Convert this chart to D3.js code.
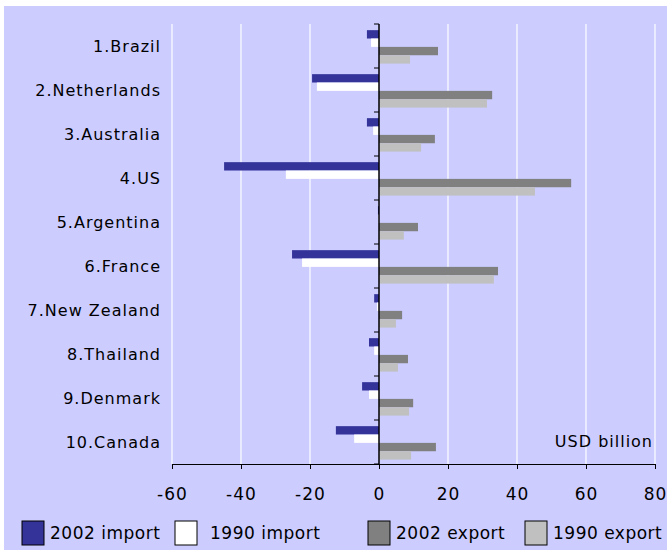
<!DOCTYPE html>
<html>
<head>
<meta charset="utf-8">
<script src="https://cdn.jsdelivr.net/npm/d3@7"></script>
<style>
  body { margin: 0; background: #fff; }
  svg text { font-family: "DejaVu Sans", Verdana, sans-serif; font-size: 16px; letter-spacing: 1px; fill: #000; }
</style>
</head>
<body>
<div id="app"></div>
<script>
const countries = ['1.Brazil', '2.Netherlands', '3.Australia', '4.US', '5.Argentina',
  '6.France', '7.New Zealand', '8.Thailand', '9.Denmark', '10.Canada']
const import2002 = [-3.5, -19.4, -3.5, -44.9, -0.3, -25.2, -1.4, -2.9, -4.9, -12.5]
const import1990 = [-2.3, -18.0, -1.7, -27.0, -0.2, -22.3, -0.6, -1.4, -2.9, -7.2]
const export2002 = [17.1, 32.8, 16.2, 55.7, 11.3, 34.5, 6.7, 8.4, 9.9, 16.5]
const export1990 = [9.0, 31.3, 12.2, 45.2, 7.2, 33.3, 4.9, 5.5, 8.7, 9.3]
const seriesNames = ['2002 import', '1990 import', '2002 export', '1990 export']
const xTicks = [-60, -40, -20, 0, 20, 40, 60, 80]

const colors = ['#333399', '#ffffff', '#808080', '#c0c0c0']
const seriesValues = [import2002, import1990, export2002, export1990]

const width = 667
const height = 550
const marginLeft = 172
const marginRight = 12
const marginTop = 24
const marginBottom = 86

const svg = d3.select('#app')
  .append('svg')
  .attr('width', width)
  .attr('height', height)

// lavender backdrop
svg.append('rect')
  .attr('x', 4).attr('y', 6)
  .attr('width', width - 4).attr('height', height - 6)
  .attr('fill', '#ccccff')

const x = d3.scaleLinear()
  .domain([-60, 80])
  .range([marginLeft, width - marginRight])

const y = d3.scaleBand()
  .domain(countries)
  .range([marginTop, height - marginBottom])

const inner = d3.scaleBand()
  .domain(seriesNames)
  .range([y.bandwidth() * 0.14, y.bandwidth() * 0.9])

// gridlines
svg.append('g')
  .selectAll('line')
  .data(xTicks.filter(d => d !== 0))
  .join('line')
  .attr('x1', d => x(d)).attr('x2', d => x(d))
  .attr('y1', marginTop).attr('y2', height - marginBottom)
  .attr('stroke', '#fff')
  .attr('stroke-width', 1.2)

// bars
seriesNames.forEach((name, i) => {
  svg.append('g')
    .selectAll('rect')
    .data(seriesValues[i])
    .join('rect')
    .attr('x', d => x(Math.min(0, d)))
    .attr('width', d => Math.abs(x(d) - x(0)))
    .attr('y', (d, j) => y(countries[j]) + inner(name))
    .attr('height', inner.bandwidth())
    .attr('fill', colors[i])
})

// x axis
const xAxis = svg.append('g')
  .attr('transform', `translate(0,${height - marginBottom})`)
  .call(d3.axisBottom(x).tickValues(xTicks).tickSize(5).tickPadding(19).tickFormat(d => String(d)))
xAxis.select('.domain').attr('stroke', '#000')
xAxis.selectAll('text')
  .attr('font-size', null).attr('font-family', null)
  .style('font-size', '17px').style('letter-spacing', '1px')

// zero axis with category ticks
svg.append('line')
  .attr('x1', x(0)).attr('x2', x(0))
  .attr('y1', marginTop).attr('y2', height - marginBottom)
  .attr('stroke', '#000').attr('stroke-width', 1.5)

svg.append('g')
  .selectAll('line')
  .data(countries.concat(['end']))
  .join('line')
  .attr('x1', x(0) - 5).attr('x2', x(0))
  .attr('y1', (d, i) => marginTop + i * y.step())
  .attr('y2', (d, i) => marginTop + i * y.step())
  .attr('stroke', '#000')

// category labels
svg.append('g')
  .selectAll('text')
  .data(countries)
  .join('text')
  .attr('x', 161)
  .attr('y', d => y(d) + y.bandwidth() / 2)
  .attr('dy', '0.36em')
  .attr('text-anchor', 'end')
  .text(d => d)

svg.append('text')
  .attr('x', 653)
  .attr('y', 447)
  .attr('text-anchor', 'end')
  .text('USD billion')

// legend
const legendX = [22, 175, 368, 525]
const legend = svg.append('g')
  .selectAll('g')
  .data(seriesNames)
  .join('g')
  .attr('transform', (d, i) => `translate(${legendX[i]},521)`)

legend.append('rect')
  .attr('width', 22).attr('height', 24)
  .attr('fill', (d, i) => colors[i])
  .attr('stroke', '#000')

legend.append('text')
  .attr('x', (d, i) => i === 1 ? 35 : 28)
  .attr('y', 12)
  .attr('dy', '0.36em')
  .style('font-size', '17px')
  .style('letter-spacing', '0.5px')
  .text(d => d)
</script>
</body>
</html>
